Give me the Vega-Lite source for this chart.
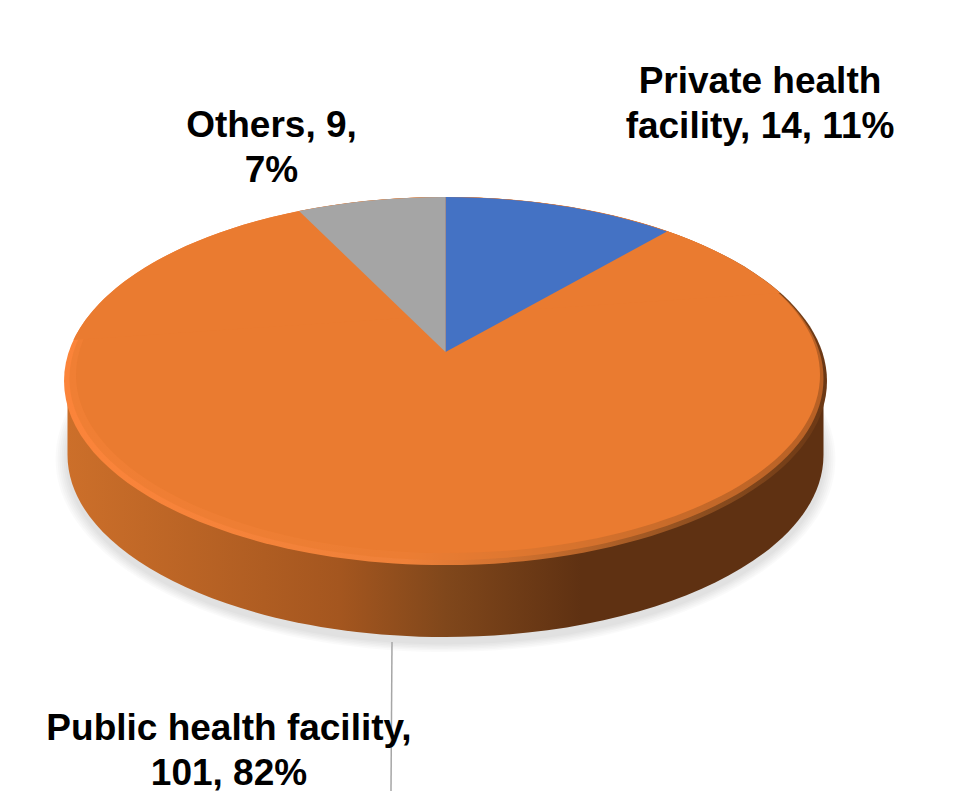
{
"$schema":"https://vega.github.io/schema/vega-lite/v6.json",
"width":961,"height":791,"padding":0,"autosize":{"type":"none"},
"background":"white",
"config":{"view":{"stroke":null}},
"data":{"values":[
{"Category":"Private health facility","Count":14,"Percent":11,"label":"Private health\nfacility, 14, 11%"},
{"Category":"Public health facility","Count":101,"Percent":82,"label":"Public health facility,\n101, 82%"},
{"Category":"Others","Count":9,"Percent":7,"label":"Others, 9,\n7%"}
]},
"layer":[
{"transform":[{"filter":"datum.Category==='Public health facility'"}],
 "mark":{"type":"point","filled":true,"size":4,"opacity":0.02,"fill":"#000","strokeWidth":0,"shape":"M-425,63.5A390,193,0,1,0,355,63.5A390,193,0,1,0,-425,63.5Z"},"encoding":{}},
{"transform":[{"filter":"datum.Category==='Public health facility'"}],
 "mark":{"type":"point","filled":true,"size":4,"opacity":0.02,"fill":"#000","strokeWidth":0,"shape":"M-423,63.5A388,191.5,0,1,0,353,63.5A388,191.5,0,1,0,-423,63.5Z"},"encoding":{}},
{"transform":[{"filter":"datum.Category==='Public health facility'"}],
 "mark":{"type":"point","filled":true,"size":4,"opacity":0.02,"fill":"#000","strokeWidth":0,"shape":"M-421,63.5A386,190,0,1,0,351,63.5A386,190,0,1,0,-421,63.5Z"},"encoding":{}},
{"transform":[{"filter":"datum.Category==='Public health facility'"}],
 "mark":{"type":"point","filled":true,"size":4,"opacity":0.02,"fill":"#000","strokeWidth":0,"shape":"M-419,63.5A384,188.5,0,1,0,349,63.5A384,188.5,0,1,0,-419,63.5Z"},"encoding":{}},
{"transform":[{"filter":"datum.Category==='Public health facility'"}],
 "mark":{"type":"point","filled":true,"size":4,"opacity":0.02,"fill":"#000","strokeWidth":0,"shape":"M-417,63.5A382,187,0,1,0,347,63.5A382,187,0,1,0,-417,63.5Z"},"encoding":{}},
{"transform":[{"filter":"datum.Category==='Public health facility'"}],
 "mark":{"type":"point","filled":true,"size":4,"opacity":0.02,"fill":"#000","strokeWidth":0,"shape":"M-415,63.5A380,185.5,0,1,0,345,63.5A380,185.5,0,1,0,-415,63.5Z"},"encoding":{}},
{"transform":[{"filter":"datum.Category==='Public health facility'"}],
 "mark":{"type":"point","filled":true,"size":4,"opacity":1,"strokeWidth":0,
  "fill":{"gradient":"linear","x1":0,"y1":0,"x2":1,"y2":0,"stops":[{"offset":0,"color":"#cc6f2a"},{"offset":0.36,"color":"#a4561f"},{"offset":0.5,"color":"#80471b"},{"offset":0.68,"color":"#5f3112"},{"offset":1,"color":"#5f3112"}]},
  "shape":"M-413,-15L-413,59.5A378,182,0,0,0,343,59.5L343,-15Z"},"encoding":{}},
{"transform":[{"filter":"datum.Category==='Public health facility'"}],
 "mark":{"type":"point","filled":true,"size":4,"opacity":1,"strokeWidth":0,
  "fill":{"gradient":"linear","x1":0,"y1":0,"x2":1,"y2":0,"stops":[{"offset":0,"color":"#fb843a"},{"offset":0.45,"color":"#ef8139"},{"offset":0.62,"color":"#c86d2d"},{"offset":0.85,"color":"#8a4c1e"},{"offset":1,"color":"#6b3815"}]},
  "shape":"M-416.5,-14.5A381.5,184,0,1,0,346.5,-14.5A381.5,184,0,1,0,-416.5,-14.5Z"},"encoding":{}},
{"transform":[{"filter":"datum.Category==='Public health facility'"}],
 "mark":{"type":"point","filled":true,"size":4,"opacity":0.6,"fill":"#EA7B30","strokeWidth":0,
  "shape":"M-411,-17A377,181.5,0,1,0,343,-17A377,181.5,0,1,0,-411,-17Z"},"encoding":{}},
{"transform":[{"filter":"datum.Category==='Public health facility'"}],
 "mark":{"type":"point","filled":true,"size":4,"opacity":1,"fill":"#EA7B30","strokeWidth":0,
  "shape":"M-404.5,-20.5A372,178,0,1,0,339.5,-20.5A372,178,0,1,0,-404.5,-20.5Z"},"encoding":{}},
{"transform":[{"filter":"datum.Category==='Public health facility'"}],
 "mark":{"type":"point","filled":true,"size":4,"opacity":1,"fill":"#EA7B30","strokeWidth":0,
  "shape":"M-407,-55.5A381.5,184,0,0,1,300,-102.5Z"},"encoding":{}},
{"transform":[{"filter":"datum.Category!=='Public health facility'"}],
 "mark":{"type":"point","filled":true,"size":4,"opacity":1,"strokeWidth":0},
 "encoding":{
  "shape":{"field":"Category","type":"nominal","legend":null,"scale":{
    "domain":["Private health facility","Others"],
    "range":["M-35,-43.5L-35,-198.5A381.5,184,0,0,1,186.5,-164Z",
             "M-35,-43.5L-181.5,-184.5A381.5,184,0,0,1,-35,-198.5Z"]}},
  "fill":{"field":"Category","type":"nominal","legend":null,"scale":{
    "domain":["Private health facility","Others"],
    "range":["#4472C4","#A5A5A5"]}}
 }},
{"transform":[{"filter":"datum.Category==='Public health facility'"}],
 "mark":{"type":"point","filled":false,"size":4,"opacity":1,"stroke":"#a6a6a6","strokeWidth":1.5,
  "shape":"M-88.5,246.5L-89.5,395.5"},"encoding":{}},
{"transform":[{"filter":"datum.Category==='Private health facility'"}],
 "mark":{"type":"text","font":"Liberation Sans","fontWeight":"bold","fontSize":37,"lineBreak":"\n","lineHeight":45,"align":"center","baseline":"alphabetic","color":"#000","dx":279.5,"dy":-302.5},
 "encoding":{"text":{"field":"label"}}},
{"transform":[{"filter":"datum.Category==='Others'"}],
 "mark":{"type":"text","font":"Liberation Sans","fontWeight":"bold","fontSize":37,"lineBreak":"\n","lineHeight":45,"align":"center","baseline":"alphabetic","color":"#000","dx":-209,"dy":-258.5},
 "encoding":{"text":{"field":"label"}}},
{"transform":[{"filter":"datum.Category==='Public health facility'"}],
 "mark":{"type":"text","font":"Liberation Sans","fontWeight":"bold","fontSize":37,"lineBreak":"\n","lineHeight":45,"align":"center","baseline":"alphabetic","color":"#000","dx":-251.5,"dy":344},
 "encoding":{"text":{"field":"label"}}}
]}
